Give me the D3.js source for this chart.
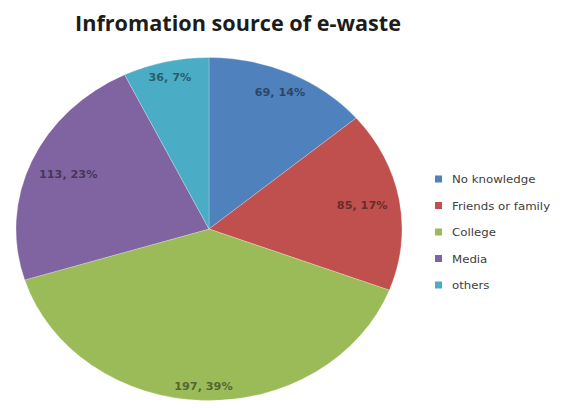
<!DOCTYPE html>
<html>
<head>
<meta charset="utf-8">
<script src="https://cdn.jsdelivr.net/npm/d3@7"></script>
<style>
  html, body { margin: 0; padding: 0; background: #fff; }
  svg { display: block; }
</style>
</head>
<body>
<svg id="chart" width="581" height="408"></svg>
<script>
// Survey answers: where respondents heard about e-waste
const categories = ["No knowledge", "Friends or family", "College", "Media", "others"];
const counts = [69, 85, 197, 113, 36];
const percentLabels = ["14%", "17%", "39%", "23%", "7%"];
const sliceColors = ["#4F81BD", "#C0504D", "#9BBB59", "#8064A2", "#4BACC6"];
const titleText = "Infromation source of e-waste";

const W = 581, H = 408;
const svg = d3.select("#chart");

// Pie geometry: slightly wider than tall
const cx = 209, cy = 229;
const ry = 171.5, rx = 193;
const sx = rx / ry;

const data = categories.map((c, i) => ({ name: c, value: counts[i], pct: percentLabels[i], color: sliceColors[i] }));

const pie = d3.pie().value(d => d.value).sort(null).startAngle(0).endAngle(2 * Math.PI);
const arcs = pie(data);
const arc = d3.arc().innerRadius(0).outerRadius(ry);

const pieG = svg.append("g").attr("transform", `translate(${cx},${cy}) scale(${sx},1)`);
pieG.selectAll("path")
  .data(arcs)
  .join("path")
  .attr("d", arc)
  .attr("fill", d => d.data.color)
  .attr("stroke", "rgba(255,255,255,0.3)")
  .attr("stroke-width", 0.8)
  .attr("vector-effect", "non-scaling-stroke");

// Data labels: "value, percent", pushed outward along the slice's mid-angle
// as far as the label box still fits inside the pie with a small inset.
const labelG = svg.append("g").attr("transform", `translate(${cx},${cy})`);
const pad = 5;
const boxH = 10;
arcs.forEach(a => {
  const t = labelG.append("text")
    .attr("text-anchor", "middle")
    .attr("dominant-baseline", "central")
    .attr("font-family", "DejaVu Sans, sans-serif")
    .attr("font-weight", "bold")
    .attr("font-size", 10)
    .attr("fill", d3.color(a.data.color).darker(1.7))
    .text(`${a.data.value}, ${a.data.pct}`);
  const w = t.node().getComputedTextLength() * 1.12;
  t.attr("textLength", w).attr("lengthAdjust", "spacingAndGlyphs");
  const mid = (a.startAngle + a.endAngle) / 2;
  const s = Math.sin(mid), c = Math.cos(mid);
  const ex = rx - pad - 6, ey = ry - pad;
  const fits = k => {
    const x = rx * k * s, y = -ry * k * c;
    for (const dx of [-w / 2, w / 2]) for (const dy of [-boxH / 2, boxH / 2]) {
      const px = x + dx, py = y + dy;
      if ((px / ex) ** 2 + (py / ey) ** 2 > 1) return false;
    }
    return true;
  };
  let k = 1;
  while (k > 0.3 && !fits(k)) k -= 0.005;
  t.attr("x", rx * k * s).attr("y", -ry * k * c);
});

// Title
svg.append("text")
  .attr("x", 75)
  .attr("y", 31)
  .attr("font-family", "Open Sans, sans-serif")
  .attr("font-weight", 700)
  .attr("font-size", 22)
  .attr("fill", "#1c1c1c")
  .attr("textLength", 326)
  .attr("lengthAdjust", "spacingAndGlyphs")
  .text(titleText);

// Legend
const legY = d3.scalePoint().domain(categories).range([179, 285]);
const leg = svg.append("g");
const items = leg.selectAll("g")
  .data(data)
  .join("g")
  .attr("transform", d => `translate(435,${legY(d.name)})`);
items.append("rect")
  .attr("x", 0).attr("y", -3.5)
  .attr("width", 7).attr("height", 7)
  .attr("fill", d => d.color);
items.append("text")
  .attr("x", 17)
  .attr("y", 0)
  .attr("dominant-baseline", "central")
  .attr("font-family", "DejaVu Sans, sans-serif")
  .attr("font-size", 10.5)
  .attr("fill", "#404040")
  .each(function () {
    const el = d3.select(this);
    el.text(el.datum().name);
    const w = this.getComputedTextLength() * 1.12;
    el.attr("textLength", w).attr("lengthAdjust", "spacingAndGlyphs");
  });
</script>
</body>
</html>
